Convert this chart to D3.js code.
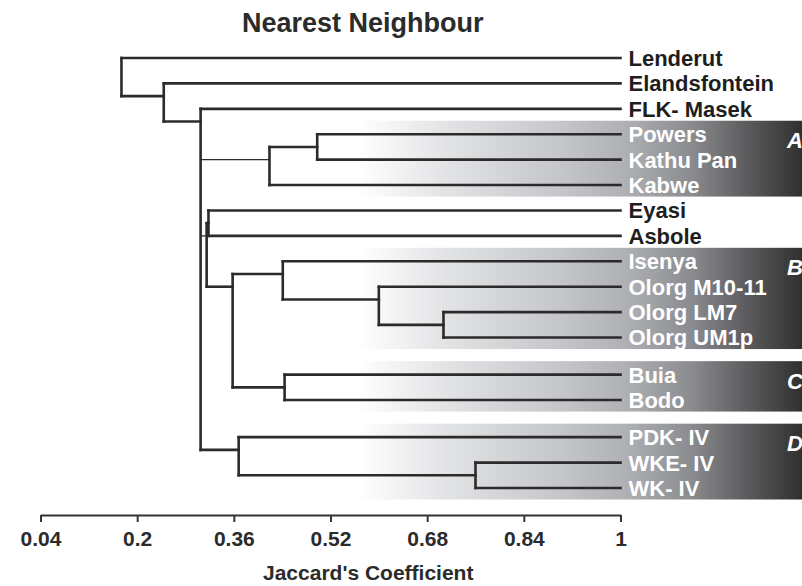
<!DOCTYPE html>
<html lang="en">
<head>
    <meta charset="UTF-8">
    <title>Nearest Neighbour</title>
    <style>
        body { margin: 0; background: #fff; }
        svg text { font-family: "Liberation Sans", Arial, sans-serif; font-weight: bold; }
        .link { fill: none; stroke: #2b2b2b; stroke-linecap: square; }
        .axis path, .axis line { stroke: #333; stroke-width: 2; }
        .axis text { font-size: 21px; fill: #2b2b2b; }
    </style>
</head>
<body>
<svg id="chart"></svg>
<script src="https://cdnjs.cloudflare.com/ajax/libs/d3/7.8.5/d3.min.js"></script>
<script>
    // leaves, top to bottom
    const leafNames = ["Lenderut", "Elandsfontein", "FLK- Masek", "Powers", "Kathu Pan", "Kabwe",
        "Eyasi", "Asbole", "Isenya", "Olorg M10-11", "Olorg LM7", "Olorg UM1p",
        "Buia", "Bodo", "PDK- IV", "WKE- IV", "WK- IV"];
    const leafGroups = [null, null, null, "A", "A", "A", null, null, "B", "B", "B", "B", "C", "C", "D", "D", "D"];

    // merges: Jaccard value where the clusters join
    const merges = [
        {id: "Powers+Kathu", at: 0.498, join: ["Powers", "Kathu Pan"]},
        {id: "A", at: 0.419, join: ["Powers+Kathu", "Kabwe"]},
        {id: "Eyasi+Asbole", at: 0.318, join: ["Eyasi", "Asbole"]},
        {id: "LM7+UM1p", at: 0.707, join: ["Olorg LM7", "Olorg UM1p"]},
        {id: "M10+LM7", at: 0.600, join: ["Olorg M10-11", "LM7+UM1p"]},
        {id: "B", at: 0.441, join: ["Isenya", "M10+LM7"]},
        {id: "C", at: 0.444, join: ["Buia", "Bodo"]},
        {id: "B+C", at: 0.358, join: ["B", "C"]},
        {id: "EA+BC", at: 0.315, join: ["Eyasi+Asbole", "B+C"]},
        {id: "WKE+WK", at: 0.760, join: ["WKE- IV", "WK- IV"]},
        {id: "D", at: 0.368, join: ["PDK- IV", "WKE+WK"]},
        {id: "core", at: 0.305, join: ["FLK- Masek", "A", "EA+BC", "D"]},
        {id: "E+core", at: 0.244, join: ["Elandsfontein", "core"]},
        {id: "root", at: 0.174, join: ["Lenderut", "E+core"]}
    ];

    const tickValues = [0.04, 0.2, 0.36, 0.52, 0.68, 0.84, 1];
    const tickLabels = ["0.04", "0.2", "0.36", "0.52", "0.68", "0.84", "1"];

    const width = 802, height = 586;
    const svg = d3.select("#chart").attr("width", width).attr("height", height);

    const x = d3.scaleLinear().domain([0.04, 1]).range([40.5, 620.5]);

    // slot index per leaf, with a small gap between two adjacent shaded groups
    const groupGap = 0.46;
    let gaps = 0;
    const slots = leafNames.map((name, i) => {
        if (i > 0 && leafGroups[i] && leafGroups[i - 1] && leafGroups[i] !== leafGroups[i - 1]) gaps++;
        return i + gaps * groupGap;
    });
    const y = d3.scaleLinear().domain([0, d3.max(slots)]).range([58, 488]);
    const step = y(1) - y(0);

    // build the tree
    const byId = new Map(merges.map(m => [m.id, m]));
    const build = name => {
        const m = byId.get(name);
        return m ? {name, at: m.at, children: m.join.map(build)} : {name, at: 1};
    };
    const root = d3.hierarchy(build("root"));
    const leafY = new Map(leafNames.map((n, i) => [n, y(slots[i])]));

    root.eachAfter(n => {
        if (n.children) {
            n.top = n.children[0].py;
            n.bottom = n.children[n.children.length - 1].py;
            n.py = n.top + step / 2;
        } else {
            n.py = leafY.get(n.data.name);
        }
    });

    // shaded bands
    const defs = svg.append("defs");
    const grad = defs.append("linearGradient").attr("id", "band")
        .attr("gradientUnits", "userSpaceOnUse")
        .attr("x1", 357).attr("x2", width).attr("y1", 0).attr("y2", 0);
    [[0, "#ffffff"], [0.2, "#e2e3e5"], [0.45, "#c6c7ca"], [0.6, "#b0b1b4"],
        [0.75, "#8b8c8f"], [0.88, "#5a5a5c"], [1, "#303030"]].forEach(s =>
        grad.append("stop").attr("offset", s[0]).attr("stop-color", s[1]));

    const groups = Array.from(new Set(leafGroups.filter(g => g)));
    const bandData = groups.map(g => {
        const ys = leafNames.filter((n, i) => leafGroups[i] === g).map(n => leafY.get(n));
        return {g, y0: d3.min(ys) - 13.5, y1: d3.max(ys) + 11.5, first: d3.min(ys)};
    });

    svg.append("g").selectAll("rect")
        .data(bandData)
        .join("rect")
        .attr("x", 357)
        .attr("y", d => d.y0)
        .attr("width", width - 357)
        .attr("height", d => d.y1 - d.y0)
        .attr("fill", "url(#band)");

    svg.append("g").selectAll("text")
        .data(bandData)
        .join("text")
        .attr("x", 787)
        .attr("y", d => d.first + 14)
        .attr("fill", "#fff")
        .style("font-size", "22px")
        .style("font-style", "italic")
        .text(d => d.g);

    // dendrogram lines
    const lines = svg.append("g");
    const internal = root.descendants().filter(n => n.children);

    lines.selectAll("path.v")
        .data(internal)
        .join("path")
        .attr("class", "link v")
        .attr("stroke-width", 2.6)
        .attr("d", n => `M${x(n.data.at)},${n.top}V${n.bottom}`);

    const isThin = n => {
        const sib = n.parent.children;
        return sib.length > 2 && n !== sib[0] && n !== sib[sib.length - 1];
    };

    lines.selectAll("path.h")
        .data(root.descendants().filter(n => n.parent))
        .join("path")
        .attr("class", "link h")
        .attr("stroke-width", n => isThin(n) ? 1.3 : 2.6)
        .attr("d", n => `M${x(n.parent.data.at)},${n.py}H${x(n.data.at)}`);

    // leaf labels
    svg.append("g").selectAll("text")
        .data(leafNames)
        .join("text")
        .attr("x", x(1) + 8)
        .attr("y", n => leafY.get(n))
        .attr("dy", "0.36em")
        .attr("fill", (n, i) => leafGroups[i] ? "#ffffff" : "#1e1e1e")
        .style("font-size", "22px")
        .text(n => n);

    // axis
    const axis = svg.append("g")
        .attr("class", "axis")
        .attr("transform", "translate(0,515)")
        .call(d3.axisBottom(x)
            .tickValues(tickValues)
            .tickFormat((d, i) => tickLabels[i])
            .tickSizeInner(7)
            .tickSizeOuter(0)
            .tickPadding(9));
    axis.selectAll("text").attr("fill", "#2b2b2b");

    svg.append("text")
        .attr("x", 263)
        .attr("y", 580)
        .attr("fill", "#2b2b2b")
        .style("font-size", "21px")
        .text("Jaccard's Coefficient");

    svg.append("text")
        .attr("x", 242)
        .attr("y", 32)
        .attr("fill", "#2b2b2b")
        .style("font-size", "27px")
        .text("Nearest Neighbour");
</script>
</body>
</html>
